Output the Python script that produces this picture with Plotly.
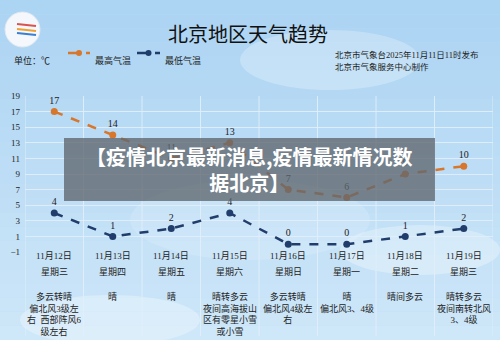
import plotly.graph_objects as go

dates = ["11月12日", "11月13日", "11月14日", "11月15日", "11月16日", "11月17日", "11月18日", "11月19日"]
weekdays = ["星期三", "星期四", "星期五", "星期六", "星期日", "星期一", "星期二", "星期三"]
weather = [
    "多云转晴<br>偏北风3级左<br>右  西部阵风6<br>级左右",
    "晴",
    "晴",
    "晴转多云<br>夜间高海拔山<br>区有零星小雪<br>或小雪",
    "多云转晴<br>偏北风4级左<br>右",
    "晴<br>偏北风3、4级",
    "晴间多云",
    "晴转多云<br>夜间南转北风<br>3、4级",
]
high = [17, 14, 11, 13, 7, 6, 9, 10]
low = [4, 1, 2, 4, 0, 0, 1, 2]
y_ticks = [-1, 1, 3, 5, 7, 9, 11, 13, 15, 17, 19]
series_names = ["最高气温", "最低气温"]

W, H = 500, 340
L, R, T, B = 25, 7, 96, 88
ph = H - T - B
pw = W - L - R

def py(p):
    return (H - B - p) / ph

def px(p):
    return (p - L) / pw

SERIF = "Liberation Serif, Noto Sans CJK SC"
CJK = "Noto Sans CJK SC"
ORANGE = "#d8772c"
NAVY = "#203d6c"
colors = [ORANGE, NAVY]

fig = go.Figure()
for name, vals, col in zip(series_names, [high, low], colors):
    fig.add_trace(go.Scatter(
        x=dates, y=vals, name=name, mode="lines+markers+text",
        text=[str(v) for v in vals], textposition="top center",
        textfont=dict(family=SERIF, size=10, color="#222"),
        line=dict(color=col, width=2.5, dash="dash"),
        marker=dict(color=col, size=7),
        cliponaxis=False, showlegend=False,
    ))

shapes = []
n = 24
def mix(c1, c2, t):
    return "rgb(%d,%d,%d)" % tuple(int(c1[i] + (c2[i] - c1[i]) * t) for i in range(3))
top_c, bot_c = (172, 212, 243), (206, 231, 249)
for i in range(n):
    shapes.append(dict(type="rect", xref="paper", yref="paper", layer="below",
                       x0=px(0), x1=px(W), y0=py(H * (i + 1) / n), y1=py(H * i / n),
                       fillcolor=mix(top_c, bot_c, i / (n - 1)), line=dict(width=0)))
for (cx, cy, rx, ry, op) in [(330, 60, 90, 30, 0.25), (420, 250, 80, 25, 0.3), (110, 320, 90, 25, 0.3), (250, 220, 120, 40, 0.15)]:
    shapes.append(dict(type="circle", xref="paper", yref="paper", layer="below",
                       x0=px(cx - rx), x1=px(cx + rx), y0=py(cy + ry), y1=py(cy - ry),
                       fillcolor="rgba(255,255,255,%s)" % op, line=dict(width=0)))
for i in range(len(dates) + 1):
    shapes.append(dict(type="line", xref="x", yref="paper", layer="below",
                       x0=i - 0.5, x1=i - 0.5, y0=py(336), y1=1,
                       line=dict(color="rgba(225,238,250,0.9)", width=1)))
# logo
shapes.append(dict(type="circle", xref="paper", yref="paper",
                   x0=px(5), x1=px(40), y0=py(47), y1=py(12),
                   fillcolor="#f4f8fc", line=dict(color="#e0e8f0", width=1)))
for (yy, col) in [(24, "#d9534f"), (29, "#f0a030"), (33, "#3a7fd0")]:
    shapes.append(dict(type="line", xref="paper", yref="paper",
                       x0=px(17), x1=px(36), y0=py(yy), y1=py(yy + 2),
                       line=dict(color=col, width=2)))

ann = []
# manual legend
for (x0, x1, tx), name, col in zip([(68, 90, 93), (137, 160, 163)], series_names, colors):
    shapes.append(dict(type="line", xref="paper", yref="paper",
                       x0=px(x0), x1=px(x1), y0=py(53), y1=py(53),
                       line=dict(color=col, width=2.5, dash="dash")))
    cx = (x0 + x1) / 2
    shapes.append(dict(type="circle", xref="paper", yref="paper",
                       x0=px(cx - 3), x1=px(cx + 3), y0=py(56), y1=py(50),
                       fillcolor=col, line=dict(width=0)))
    ann.append(dict(text=name, xref="paper", yref="paper", x=px(tx), y=py(53),
                    xanchor="left", showarrow=False, font=dict(family=SERIF, size=9, color="#222")))

# overlay banner
shapes.append(dict(type="rect", xref="paper", yref="paper",
                   x0=px(64), x1=px(435), y0=py(201), y1=py(138),
                   fillcolor="rgba(95,102,110,0.78)", line=dict(width=0)))

ann.append(dict(text="北京地区天气趋势", xref="paper", yref="paper", x=px(248), y=py(17),
                showarrow=False, font=dict(family=CJK, size=20, color="#111")))
ann.append(dict(text="单位：℃", xref="paper", yref="paper", x=px(12), y=py(53),
                xanchor="left", showarrow=False, font=dict(family=SERIF, size=9, color="#222")))
ann.append(dict(text="北京市气象台2025年11月11日11时发布", xref="paper", yref="paper", x=px(333), y=py(48),
                xanchor="left", showarrow=False, font=dict(family=SERIF, size=8.5, color="#222")))
ann.append(dict(text="北京市气象服务中心制作", xref="paper", yref="paper", x=px(333), y=py(60),
                xanchor="left", showarrow=False, font=dict(family=SERIF, size=8.5, color="#222")))
for i, d in enumerate(dates):
    ann.append(dict(text=d, xref="x", yref="paper", x=i, y=py(263), showarrow=False,
                    font=dict(family=SERIF, size=9, color="#222")))
    ann.append(dict(text=weekdays[i], xref="x", yref="paper", x=i, y=py(279), showarrow=False,
                    font=dict(family=SERIF, size=9, color="#222")))
    ann.append(dict(text=weather[i], xref="x", yref="paper", x=i, y=py(289), yanchor="top",
                    showarrow=False, font=dict(family=SERIF, size=9, color="#222")))
ann.append(dict(text="<b>【疫情北京最新消息,疫情最新情况数<br>据北京】</b>", xref="paper", yref="paper",
                x=px(249), y=py(169.5), showarrow=False,
                font=dict(family=CJK, size=20, color="white")))

fig.update_layout(
    width=W, height=H,
    margin=dict(l=L, r=R, t=T, b=B),
    paper_bgcolor="#bcdcf5", plot_bgcolor="rgba(0,0,0,0)",
    shapes=shapes, annotations=ann,
    showlegend=False,
    xaxis=dict(type="category", range=[-0.5, 7.5], showticklabels=False, showgrid=False,
               zeroline=False, showline=False, ticks=""),
    yaxis=dict(range=[-1, 19], tickvals=y_ticks, showgrid=True,
               gridcolor="rgba(225,238,250,0.9)", gridwidth=1, zeroline=False,
               tickfont=dict(family=SERIF, size=9, color="#222"), ticks="", ticklabelstandoff=4),
)
fig.write_html("out.html")
